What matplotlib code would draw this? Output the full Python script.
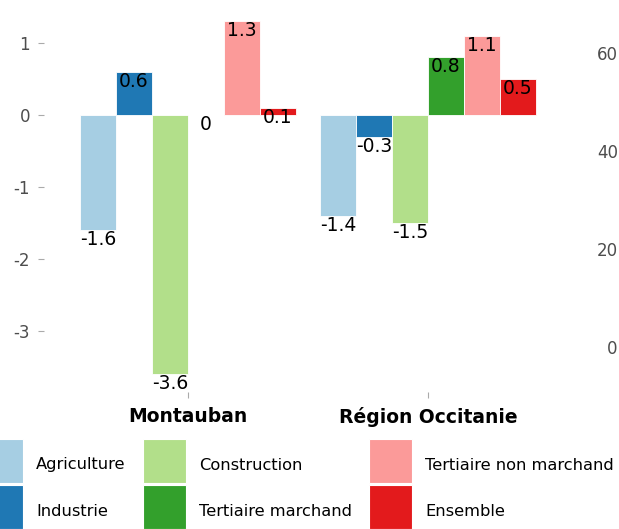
import matplotlib
matplotlib.use('Agg')
import matplotlib.pyplot as plt
from matplotlib.patches import Rectangle

plt.rcParams['font.family'] = ['DejaVu Sans']

groups = ['Montauban', 'Région Occitanie']
sectors = ['Agriculture', 'Industrie', 'Construction', 'Tertiaire marchand',
           'Tertiaire non marchand', 'Ensemble']
colors = ['#A6CEE3', '#1F78B4', '#B2DF8A', '#33A02C', '#FB9A99', '#E31A1C']

montauban = [-1.6, 0.6, -3.6, 0, 1.3, 0.1]
occitanie = [-1.4, -0.3, -1.5, 0.8, 1.1, 0.5]
values = [montauban, occitanie]

left_ticks = [-3, -2, -1, 0, 1]
right_ticks = [0, 20, 40, 60]

W, H = 619, 529
fig = plt.figure(figsize=(W / 100, H / 100), dpi=100)
ax = fig.add_axes([44 / W, 1 - 392 / H, (572 - 44) / W, (392 - 3.6) / H])

bw = 0.15
for gi, vals in enumerate(values):
    for i, v in enumerate(vals):
        x = gi + 1 + (i - 2.5) * bw
        ax.bar(x, v, width=bw, color=colors[i], edgecolor='white', linewidth=0.6)
        ax.text(x, v, f'{v:g}', ha='center', va='top', fontsize=13.5, color='black')

ax.set_xlim(0.4, 2.6)
ax.set_ylim(-3.845, 1.545)
ax.set_xticks([1, 2])
ax.set_xticklabels(groups, fontsize=13.5, fontweight='bold', color='black')
ax.set_yticks(left_ticks)
ax.set_yticklabels([str(t) for t in left_ticks], fontsize=12, color='#4D4D4D')
ax.tick_params(axis='x', length=4, width=0.8, color='#AAAAAA', pad=7)
ax.tick_params(axis='y', length=4, width=0.8, color='#AAAAAA', pad=6)
for s in ax.spines.values():
    s.set_visible(False)

ax2 = ax.twinx()
ax2.set_ylim(-9.26, 70.2)
ax2.set_yticks(right_ticks)
ax2.set_yticklabels([str(t) for t in right_ticks], fontsize=12, color='#4D4D4D')
ax2.tick_params(axis='y', length=0, pad=33)
for lab in ax2.get_yticklabels():
    lab.set_horizontalalignment('right')
for s in ax2.spines.values():
    s.set_visible(False)

# legend drawn by hand, three columns filled top to bottom
key_x = [-20, 143, 369]
row_y = [439, 485]
for i, name in enumerate(sectors):
    col, row = i // 2, i % 2
    x0, y0 = key_x[col], row_y[row]
    fig.patches.append(Rectangle((x0 / W, 1 - (y0 + 44) / H), 43 / W, 44 / H,
                                 transform=fig.transFigure, facecolor=colors[i],
                                 edgecolor='white', linewidth=0.8))
    fig.text((x0 + 56) / W, 1 - (y0 + 26) / H, name, ha='left', va='center',
             fontsize=11.7, color='black')

fig.savefig('out.png', dpi=100)
